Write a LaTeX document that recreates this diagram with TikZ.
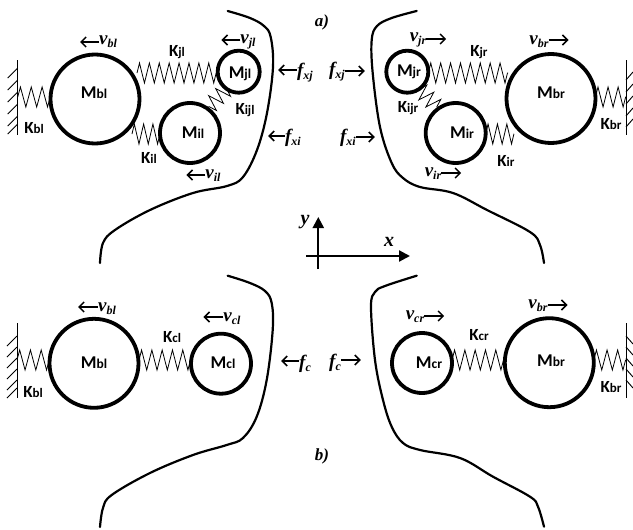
\documentclass[tikz,border=0pt]{standalone}
\usepackage{fontspec}
\setmainfont{Liberation Serif}
\newfontfamily\carl{Carlito}
\usetikzlibrary{arrows.meta,decorations.pathmorphing}
\newcommand{\ML}[2]{{\carl\bfseries\fontsize{18}{18}\selectfont #1\fontsize{13.5}{13.5}\selectfont #2}}
\newcommand{\KL}[2]{{\carl\bfseries\fontsize{17}{17}\selectfont #1\fontsize{13}{13}\selectfont #2}}
\newcommand{\VL}[2]{{\bfseries\itshape\fontsize{19}{19}\selectfont #1\raisebox{-3pt}{\fontsize{12}{12}\selectfont #2}}}
\newcommand{\TL}[1]{{\bfseries\itshape\fontsize{17}{17}\selectfont #1}}
\tikzset{
  every node/.style={inner sep=0pt,outer sep=0pt},
  big/.style={circle,draw,line width=3.8pt,minimum size=89pt},
  mid/.style={circle,draw,line width=3.8pt,minimum size=60pt},
  sml/.style={circle,draw,line width=3.8pt,minimum size=42pt},
  spring/.style={line width=0.8pt,decorate,decoration={zigzag,amplitude=10pt,segment length=#1}},
  tiny spring/.style={line width=0.8pt,decorate,decoration={zigzag,amplitude=8pt,segment length=10pt}},
  arw/.style={line width=1.5pt,-{Straight Barb[length=5pt,width=10pt,line width=1.5pt]}},
  body/.style={line width=2.2pt,line cap=round},
  axis/.style={line width=2.2pt,-{Triangle[length=11pt,width=11pt]}},
  wall/.style={line width=1pt},
  hatch/.style={line width=0.9pt}
}
\begin{document}
\begin{tikzpicture}[x=1pt,y=-1pt]
\useasboundingbox (0,0) rectangle (633,530);
% ----- masses, part a
\node[big] (mbl) at (95,99) {};
\node[sml] (mjl) at (238.7,71.7) {};
\node[mid] (mil) at (190,133) {};
\node[sml] (mjr) at (407.3,71.7) {};
\node[mid] (mir) at (455.7,133) {};
\node[big] (mbr) at (551,98.5) {};
% ----- masses, part b
\node[big] (bbl) at (94,363.3) {};
\node[mid] (mcl) at (221,363.7) {};
\node[mid] (mcr) at (422,363) {};
\node[big] (bbr) at (549.3,362.7) {};
% ----- mass labels
\node (tmbl) at (94,93) {\ML{M}{bl}};
\node (tmjl) at (240,74) {\ML{M}{jl}};
\node (tmil) at (193,133) {\ML{M}{il}};
\node (tmjr) at (409,72) {\ML{M}{jr}};
\node (tmir) at (462,133) {\ML{M}{ir}};
\node (tmbr) at (551,93) {\ML{M}{br}};
\node (tbbl) at (94,363) {\ML{M}{bl}};
\node (tmcl) at (223,363) {\ML{M}{cl}};
\node (tmcr) at (429,363) {\ML{M}{cr}};
\node (tbbr) at (551,361) {\ML{M}{br}};
% ----- spring labels
\node (kbl) at (34,128) {\KL{K}{bl}};
\node (kjl) at (177,52) {\KL{K}{jl}};
\node (kijl) at (245,110) {\KL{K}{ijl}};
\node (kil) at (149,158) {\KL{K}{il}};
\node (kjr) at (479,52) {\KL{K}{jr}};
\node (kijr) at (408,108) {\KL{K}{ijr}};
\node (kir) at (506,161) {\KL{K}{ir}};
\node (kbr) at (611,124) {\KL{K}{br}};
\node (kbl2) at (33,392) {\KL{K}{bl}};
\node (kcl) at (172,337) {\KL{K}{cl}};
\node (kcr) at (479,335) {\KL{K}{cr}};
\node (kbr2) at (611,387) {\KL{K}{br}};
% ----- walls
\coordinate (wl1a) at (17.7,60); \coordinate (wl1b) at (17.7,135);
\coordinate (wr1a) at (626,60);  \coordinate (wr1b) at (626,135);
\coordinate (wl2a) at (17,323);  \coordinate (wl2b) at (17,398);
\coordinate (wr2a) at (626,323); \coordinate (wr2b) at (626,398);
\draw[wall] (wl1a) -- (wl1b);
\draw[wall] (wr1a) -- (wr1b);
\draw[wall] (wl2a) -- (wl2b);
\draw[wall] (wr2a) -- (wr2b);
\foreach \y in {68,80,92,104,116,124} \draw[hatch] (17.7,\y) -- ++(-10,10);
\foreach \y in {336,347,358,369,380,388} \draw[hatch] (17,\y) -- ++(-10,10);
\foreach \y in {80,92,104,116,127} \draw[hatch] (626,\y) -- ++(7,-8);
\foreach \y in {336,347,358,369,380} \draw[hatch] (626,\y) -- ++(7,8);
% ----- springs
\coordinate (s1) at (17.7,97);
\coordinate (s2) at (626,97);
\coordinate (s3) at (17,360);
\coordinate (s4) at (626,360);
\coordinate (s5) at (132,134);
\coordinate (s6) at (514,134);
\coordinate (s7) at (137,73);
\coordinate (s8) at (508,73);
\coordinate (s9) at (139,360);
\coordinate (s10) at (504,360);
\draw[spring=10.85pt] (s1) -- (mbl.west |- s1);
\draw[spring=9.9pt] (s7) -- (mjl.west |- s7);
\draw[spring=9.3pt] (s5) -- (mil.west |- s5);
\draw[tiny spring] (mjl.235) -- (mil.55);
\draw[spring=10.05pt] (mbr.east |- s2) -- (s2);
\draw[spring=9.9pt] (mjr.east |- s8) -- (s8);
\draw[spring=9.4pt] (mir.east |- s6) -- (s6);
\draw[tiny spring] (mjr.305) -- (mir.125);
\draw[spring=10.75pt] (s3) -- (bbl.west |- s3);
\draw[spring=10.3pt] (s9) -- (mcl.west |- s9);
\draw[spring=10.3pt] (mcr.east |- s10) -- (s10);
\draw[spring=10.6pt] (bbr.east |- s4) -- (s4);
% ----- body outlines
\draw[body] plot[smooth,tension=0.6] coordinates {(227.7,11) (250,18) (264,26) (270.7,37) (273,67) (267,113) (257,150) (243,177) (227,186) (193,193) (150,210) (115,230) (103,243) (100,263)};
\draw[body] plot[smooth,tension=0.6] coordinates {(416.7,11) (391.7,18) (377,26) (371.7,40) (372.7,73) (380,127) (391.7,163) (403,178) (420,187) (453,193) (487,210) (530,232) (540,245) (544,263)};
\draw[body] plot[smooth,tension=0.6] coordinates {(227.7,275.7) (250,283) (265,291) (271.7,303) (272.7,330) (266.7,380) (256.7,416.7) (243,438) (226.7,445) (193,455) (150,473) (111.7,495) (103,508) (100,527)};
\draw[body] plot[smooth,tension=0.6] coordinates {(416.7,275.7) (385,286) (375,292) (371,306.7) (375,360) (383,400) (391.7,426.7) (403,443) (420,450) (460,458) (493,476.7) (530,496.7) (538,506.7) (544,526.7)};
% ----- velocity and force labels
\node (vbl) at (108,42) {\VL{v}{bl}};
\node (vjl) at (248,42) {\VL{v}{jl}};
\node (vil) at (213,176) {\VL{v}{il}};
\node (fxj) at (305,73) {\VL{f}{xj}};
\node (fxi) at (293,138) {\VL{f}{xi}};
\node (gxj) at (337,72) {\VL{f}{xj}};
\node (gxi) at (348,138) {\VL{f}{xi}};
\node (vjr) at (418,40) {\VL{v}{jr}};
\node (vbr) at (539,42) {\VL{v}{br}};
\node (vir) at (433,174) {\VL{v}{ir}};
\node (wbl) at (107,309) {\VL{v}{bl}};
\node (vcl) at (232,319) {\VL{v}{cl}};
\node (fc) at (305,364) {\VL{f}{c}};
\node (gc) at (335,363) {\VL{f}{c}};
\node (vcr) at (415,317) {\VL{v}{cr}};
\node (wbr) at (538,306) {\VL{v}{br}};
% ----- arrows
\draw[arw] ([yshift=0pt]vbl.west) -- ++(-19,0);
\draw[arw] ([yshift=2pt]vjl.west) -- ++(-19,0);
\draw[arw] ([yshift=1pt]vil.west) -- ++(-19,0);
\draw[arw] ([yshift=3pt]fxj.west) -- ++(-19,0);
\draw[arw] ([yshift=2pt]fxi.west) -- ++(-17,0);
\draw[arw] ([yshift=1pt]gxj.east) -- ++(20,0);
\draw[arw] ([yshift=1pt]gxi.east) -- ++(19,0);
\draw[arw] ([yshift=1pt]vjr.east) -- ++(20,0);
\draw[arw] ([yshift=2pt]vbr.east) -- ++(20,0);
\draw[arw] ([yshift=1pt]vir.east) -- ++(20,0);
\draw[arw] ([yshift=2pt]wbl.west) -- ++(-20,0);
\draw[arw] ([yshift=2pt]vcl.west) -- ++(-20,0);
\draw[arw] ([yshift=3pt]fc.west) -- ++(-18,0);
\draw[arw] ([yshift=3pt]gc.east) -- ++(20,0);
\draw[arw] ([yshift=1pt]vcr.east) -- ++(20,0);
\draw[arw] ([yshift=1pt]wbr.east) -- ++(20,0);
% ----- axes
\coordinate (ya) at (318.3,269); \coordinate (yb) at (318.3,217);
\coordinate (xa) at (306,256);   \coordinate (xb) at (410,256);
\draw[axis] (ya) -- (yb);
\draw[axis] (xa) -- (xb);
\node (ty) at (305,222) {\bfseries\itshape\fontsize{20}{20}\selectfont y};
\node (tx) at (389,242) {\bfseries\itshape\fontsize{20}{20}\selectfont x};
\node (ta) at (322,22) {\TL{a)}};
\node (tb) at (322,456) {\TL{b)}};
\end{tikzpicture}
\end{document}
